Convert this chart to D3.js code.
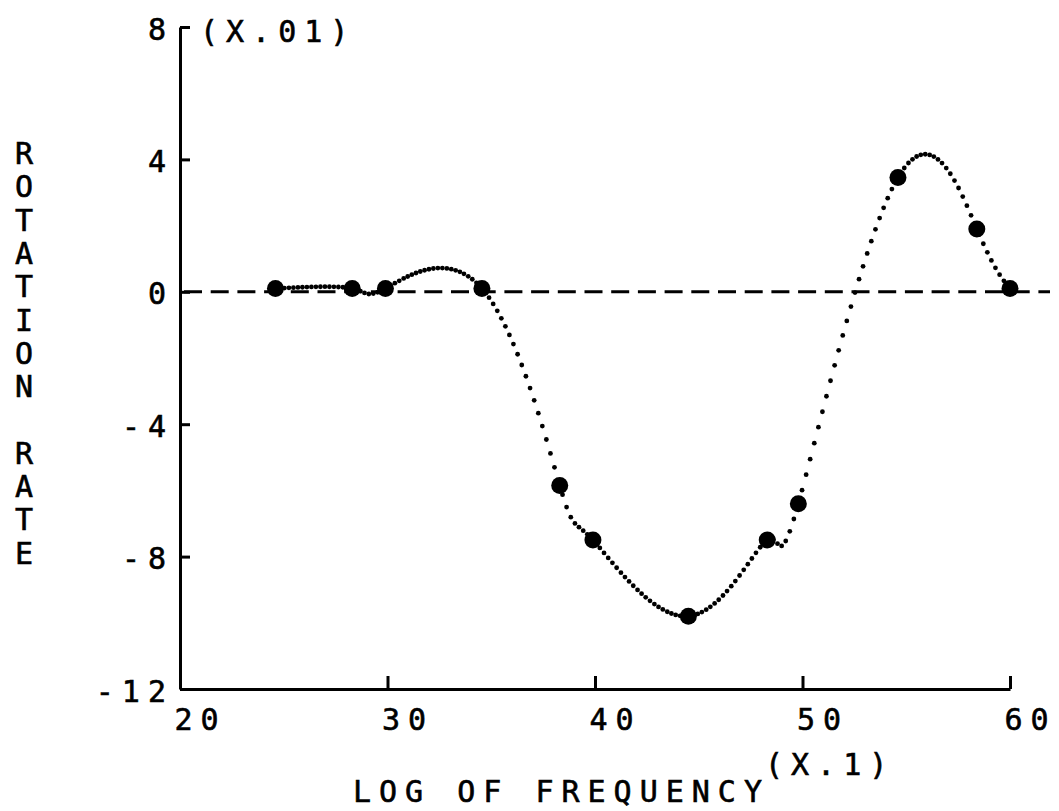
<!DOCTYPE html>
<html>
<head>
<meta charset="utf-8">
<script src="https://cdn.jsdelivr.net/npm/d3@7"></script>
<style>
  body { margin: 0; background: #fff; }
  text { font-family: "DejaVu Sans Mono", monospace; font-size: 30px; letter-spacing: 8px; fill: #000; stroke: #000; stroke-width: 0.6px; }
</style>
</head>
<body>
<svg id="chart" width="1059" height="811"></svg>
<script>
// log of frequency (x.1) vs rotation rate (x.01)
var logFreq = [24.6, 28.3, 29.9, 34.55, 38.3, 39.9, 44.5, 48.3, 49.8, 54.6, 58.4, 60];
var rotRate = [0.1, 0.1, 0.1, 0.1, -5.85, -7.5, -9.8, -7.5, -6.4, 3.45, 1.9, 0.1];
var xTicks = [20, 30, 40, 50, 60];
var yTicks = [-12, -8, -4, 0, 4, 8];
var yTitle = "ROTATION RATE";

var points = logFreq.map(function(d, i) { return {x: d, y: rotRate[i]}; });

var svg = d3.select("#chart");

var x = d3.scaleLinear().domain([20, 60]).range([180, 1010]);
var y = d3.scaleLinear().domain([-12, 8]).range([689, 27]);

// axes
var xAxis = svg.append("g")
    .attr("transform", "translate(0," + y(-12) + ")")
    .call(d3.axisBottom(x).tickValues(xTicks).tickSize(-13).tickSizeOuter(0).tickPadding(20));
var yAxis = svg.append("g")
    .attr("transform", "translate(" + x(20) + ",0)")
    .call(d3.axisLeft(y).tickValues(yTicks).tickFormat(function(d) { return String(d); })
        .tickSize(-10).tickSizeOuter(0).tickPadding(6));

[xAxis, yAxis].forEach(function(a) {
    a.select(".domain").attr("stroke", "#000").attr("stroke-width", 3);
    a.selectAll(".tick line").attr("stroke", "#000").attr("stroke-width", 3);
    a.selectAll("text").attr("font-family", null).attr("font-size", null);
});
xAxis.selectAll(".tick text").attr("text-anchor", "start").attr("dx", -6);
yAxis.selectAll(".tick text").attr("dy", "0.4em");

// zero reference line
svg.append("line")
    .attr("x1", x(20) + 4).attr("x2", 1050)
    .attr("y1", y(0)).attr("y2", y(0))
    .attr("stroke", "#000").attr("stroke-width", 3)
    .attr("stroke-dasharray", "18,8.7");

// fitted curve, plotted pen-style as dots at a fixed x step
var line = d3.line().x(function(d) { return x(d.x); }).y(function(d) { return y(d.y); })
    .curve(d3.curveNatural);
var guide = svg.append("path").attr("d", line(points)).attr("fill", "none").attr("stroke", "none");
var node = guide.node();
var total = node.getTotalLength();
var lastX = -1e9;
var dots = [];
for (var l = 0; l <= total; l += 0.5) {
    var p = node.getPointAtLength(l);
    if (p.x - lastX >= 4) { dots.push(p); lastX = p.x; }
}
svg.append("g").selectAll("circle").data(dots).enter().append("circle")
    .attr("cx", function(d) { return d.x; })
    .attr("cy", function(d) { return d.y; })
    .attr("r", 2.4)
    .attr("fill", "#000");

// data markers
svg.append("g").selectAll("circle").data(points).enter().append("circle")
    .attr("cx", function(d) { return x(d.x); })
    .attr("cy", function(d) { return y(d.y); })
    .attr("r", 8.5)
    .attr("fill", "#000");

// labels
svg.append("text").attr("x", 200).attr("y", 42).text("(X.01)");
svg.append("text").attr("x", 765).attr("y", 775).text("(X.1)");
svg.append("text").attr("x", 353).attr("y", 802).text("LOG OF FREQUENCY");

svg.append("g").selectAll("text").data(yTitle.split("")).enter().append("text")
    .attr("x", 24)
    .attr("y", function(d, i) { return 153 + i * 33.3 + 11; })
    .attr("text-anchor", "middle")
    .style("letter-spacing", "0px")
    .text(function(d) { return d; });
</script>
</body>
</html>
